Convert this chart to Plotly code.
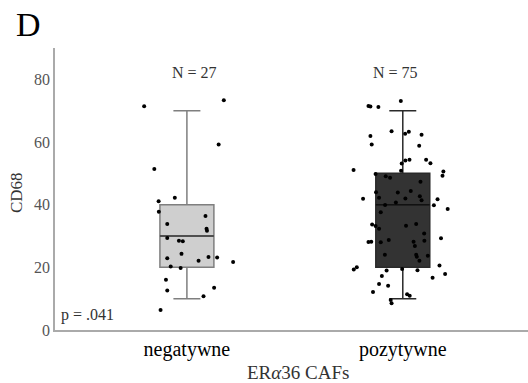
import plotly.graph_objects as go

# ---------------- data ----------------
categories = ["negatywne", "pozytywne"]
n_labels = ["N = 27", "N = 75"]
y_ticks = [0, 20, 40, 60, 80]

# box statistics
q1 = [20, 20]
median = [30, 40]
q3 = [40, 50]
lower_whisker = [10, 10]
upper_whisker = [70, 70]

# individual observations (value, horizontal jitter in category units)
neg_values = [71.4, 73.3, 59.2, 51.4, 41.1, 42.2, 37.7, 36.4, 33.8, 32.3, 31.7, 29.4,
              28.5, 28.3, 24.3, 22.9, 22.1, 23.3, 23.1, 21.7, 20.3, 19.8, 16.0, 12.6,
              13.5, 10.8, 6.4]
neg_jitter = [-0.198, 0.171, 0.147, -0.151, -0.131, -0.056, -0.130, 0.086, -0.091, 0.091,
              0.093, -0.091, -0.037, -0.019, -0.025, -0.091, 0.054, 0.100, 0.140, 0.214,
              -0.075, -0.029, -0.097, -0.091, 0.126, 0.077, -0.122]

pos_values = [73.1, 71.5, 71.3, 71.2, 63.4, 63.3, 62.6, 62.3, 61.9, 59.2, 58.8, 54.1,
              54.3, 54.3, 53.2, 53.1, 51.1, 50.8, 50.6, 49.2, 49.8, 49.1, 48.6, 47.3,
              44.0, 43.9, 44.4, 41.9, 42.2, 42.0, 42.7, 41.7,
              41.4, 40.7, 39.8, 38.6, 39.9, 37.6, 33.7, 33.2, 32.3, 33.3, 33.8, 30.8,
              29.3, 28.7, 28.1, 28.2, 28.0, 28.2, 28.5, 26.8, 24.0, 23.4, 24.0, 23.7,
              22.1, 19.3, 20.0, 19.0, 19.5, 19.1, 20.6, 17.9, 17.2, 16.7, 14.7, 14.1,
              12.1, 11.4, 10.9, 9.6, 8.5]
pos_jitter = [-0.009, -0.159, -0.150, -0.113, -0.052, 0.028, 0.011, 0.087, -0.150, -0.144,
              0.076, 0.012, 0.031, 0.108, 0.128, -0.005, -0.228, -0.008, 0.188, 0.184,
              -0.126, -0.079, -0.059, 0.082, -0.124, -0.023, 0.037, -0.184, -0.110, 0.012,
              0.079, 0.161,
              0.087, -0.032, 0.144, 0.208, -0.082, -0.102, -0.142, -0.126, -0.110, 0.015,
              0.062, 0.099, 0.177, -0.065, -0.159, -0.146, -0.102, 0.050, 0.100, 0.056,
              0.062, 0.065, -0.083, 0.116, 0.077, -0.227, -0.213, -0.075, -0.003, 0.068,
              0.170, 0.196, -0.097, 0.138, -0.110, -0.068, -0.138, 0.020, 0.032, -0.056,
              -0.052]

# ---------------- styles ----------------
fills = ["#cfcfcf", "#333333"]
outlines = ["#7f7f7f", "#2a2a2a"]
median_cols = ["#3a3a3a", "#111111"]
serif = "Liberation Serif"

fig = go.Figure()
for i in range(2):
    fig.add_trace(go.Box(
        x=[i], q1=[q1[i]], median=[median[i]], q3=[q3[i]],
        lowerfence=[lower_whisker[i]], upperfence=[upper_whisker[i]],
        width=0.25, whiskerwidth=0.5, boxpoints=False,
        fillcolor=fills[i], line=dict(color=outlines[i], width=1.5),
        showlegend=False, hoverinfo="skip"))
    # darker median line drawn as a zero-height box
    fig.add_trace(go.Box(
        x=[i], q1=[median[i]], median=[median[i]], q3=[median[i]],
        lowerfence=[median[i]], upperfence=[median[i]],
        width=0.25, whiskerwidth=0, boxpoints=False,
        fillcolor="rgba(0,0,0,0)", line=dict(color=median_cols[i], width=1.5),
        showlegend=False, hoverinfo="skip"))

for idx, (vals, jit) in enumerate([(neg_values, neg_jitter), (pos_values, pos_jitter)]):
    fig.add_trace(go.Scatter(
        x=[idx + j for j in jit], y=vals, mode="markers",
        marker=dict(color="#000000", size=4),
        showlegend=False, hoverinfo="skip"))

def ann(text, x, y, xref, yref, size, color="#333", **kw):
    return dict(text=text, x=x, y=y, xref=xref, yref=yref, showarrow=False,
                xanchor="center", yanchor="middle",
                font=dict(family=serif, size=size, color=color), **kw)

annotations = [
    ann("D", -0.057, 1.082, "paper", "paper", 34, "#000"),
    ann(n_labels[0], 0.037, 82.2, "x", "y", 16),
    ann(n_labels[1], 0.968, 82.2, "x", "y", 16),
    ann("p = .041", 0.069, 4.8, "paper", "y", 16),
    ann("ER<i>α</i>36 CAFs", 0.514, -0.152, "paper", "paper", 19),
    ann("CD68", -0.080, 0.486, "paper", "paper", 17, textangle=-90),
]

fig.update_layout(
    width=528, height=383,
    margin=dict(l=55, r=0, t=48, b=53),
    paper_bgcolor="white", plot_bgcolor="white",
    annotations=annotations,
    xaxis=dict(range=[-0.611, 1.58], tickvals=[0, 1], ticktext=categories,
               showgrid=False, zeroline=False, showline=True, linecolor="#aaaaaa",
               linewidth=1.5, ticks="", tickfont=dict(family=serif, size=20, color="#000")),
    yaxis=dict(range=[0, 90], tickvals=y_ticks, showgrid=False, zeroline=False,
               showline=True, linecolor="#aaaaaa", linewidth=1.5, ticks="",
               tickfont=dict(family=serif, size=16, color="#555")),
)

fig.write_html("out.html", config={"displayModeBar": False},
               post_script="document.body.style.margin='0px';")
